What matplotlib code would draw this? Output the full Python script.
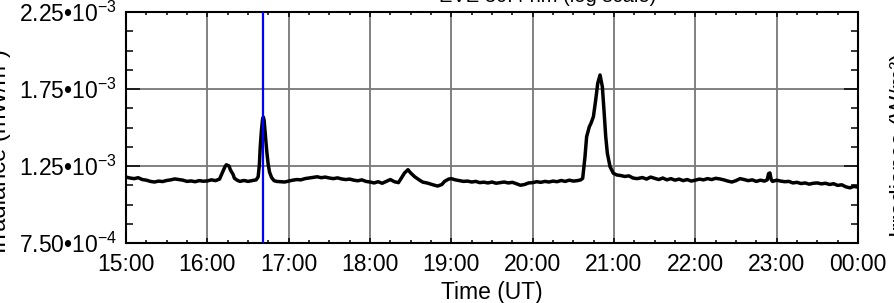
import matplotlib
matplotlib.use('Agg')
import matplotlib.pyplot as plt
from matplotlib.ticker import FixedLocator, FixedFormatter, MultipleLocator

plt.rcParams['font.family'] = ['Liberation Sans', 'DejaVu Sans']
plt.rcParams['mathtext.fontset'] = 'custom'
plt.rcParams['mathtext.rm'] = 'Liberation Sans'
plt.rcParams['mathtext.it'] = 'Liberation Sans:italic'
plt.rcParams['mathtext.bf'] = 'Liberation Sans:bold'

# ---- data: minutes after 15:00 UT and irradiance in units of 1e-3 ----
minutes = [
    0, 3, 6, 9, 12, 15, 18, 21, 24, 27, 30, 33, 36, 39, 42, 45, 48, 51, 54, 57,
    60, 63, 66, 69, 71, 73, 74, 76, 77, 79, 80, 82, 84, 87, 90, 93, 96, 97.5,
    98.4, 99, 99.9, 100.7, 101.3, 101.9, 102.6, 103.3, 103.9, 104.9, 105.9,
    107.4, 109.2, 111, 114, 117,
    120, 123, 126, 129, 132, 135, 138, 141, 144, 147, 150, 153, 156, 159, 162,
    165, 168, 171, 174, 177,
    180, 183, 186, 189, 192, 195, 198, 201, 203.4, 205.5, 208, 210, 213, 216.6,
    219, 222, 225, 228, 230, 233, 235, 238,
    240, 243, 246, 249, 252, 255, 258, 261, 264, 267, 270, 273, 276, 279, 282,
    285, 288, 291, 294, 297,
    300, 303, 306, 309, 312, 315, 318, 321, 324, 327, 330, 333, 335.5, 336.9,
    338.6, 339.8, 341.8, 343, 344.8, 346.5, 348, 349.7, 351.4, 352.6, 353.9,
    355.1, 357.1, 359.5, 362,
    365, 368, 371, 374, 377, 381, 384, 387, 390, 393, 396, 399, 402, 405, 408,
    411, 414, 417,
    420, 423, 426, 429, 432, 435, 438, 441, 444, 447, 450, 453, 456, 459, 462,
    465, 468, 471, 473, 474, 475, 476, 477,
    480, 483, 486, 489, 492, 495, 498, 501, 504, 507, 510, 513, 516, 519, 522,
    525, 528, 531, 534, 537, 540,
]
irradiance_e3 = [
    1.178, 1.172, 1.168, 1.174, 1.162, 1.158, 1.150, 1.146, 1.152, 1.149,
    1.156, 1.160, 1.166, 1.162, 1.158, 1.150, 1.153, 1.148, 1.155, 1.151,
    1.153, 1.160, 1.155, 1.165, 1.205, 1.245, 1.258, 1.250, 1.225, 1.195,
    1.170, 1.158, 1.150, 1.156, 1.150, 1.155, 1.160, 1.180,
    1.260, 1.370, 1.480, 1.550, 1.568, 1.545, 1.470, 1.400, 1.340, 1.260,
    1.210, 1.175, 1.155, 1.150, 1.148, 1.146,
    1.152, 1.158, 1.162, 1.160, 1.168, 1.172, 1.176, 1.180, 1.174, 1.178,
    1.172, 1.168, 1.173, 1.166, 1.162, 1.165, 1.158, 1.154, 1.160, 1.150,
    1.146, 1.140, 1.148, 1.138, 1.150, 1.162, 1.148, 1.142, 1.175, 1.205,
    1.226, 1.205, 1.180, 1.158, 1.145, 1.140, 1.132, 1.124, 1.120, 1.130,
    1.150, 1.165,
    1.168, 1.160, 1.155, 1.150, 1.152, 1.146, 1.150, 1.142, 1.145, 1.140,
    1.146, 1.138, 1.142, 1.146, 1.140, 1.144, 1.135, 1.125, 1.130, 1.140,
    1.142, 1.148, 1.144, 1.150, 1.146, 1.152, 1.148, 1.156, 1.150, 1.158,
    1.152, 1.155, 1.160, 1.170,
    1.310, 1.440, 1.505, 1.527, 1.570, 1.679, 1.787, 1.841, 1.765, 1.614,
    1.440, 1.332, 1.245, 1.203, 1.192,
    1.188, 1.182, 1.186, 1.172, 1.168, 1.175, 1.165, 1.178, 1.170, 1.162,
    1.172, 1.160, 1.168, 1.158, 1.165, 1.155, 1.162, 1.152,
    1.158, 1.165, 1.160, 1.168, 1.162, 1.170, 1.166, 1.160, 1.152, 1.146,
    1.155, 1.168, 1.162, 1.155, 1.160, 1.150, 1.158, 1.152, 1.160, 1.200,
    1.205, 1.160, 1.150,
    1.158, 1.152, 1.148, 1.150, 1.140, 1.144, 1.136, 1.140, 1.132, 1.138,
    1.140, 1.134, 1.138, 1.130, 1.135, 1.124, 1.128, 1.115, 1.108, 1.118,
    1.112,
]

x_tick_hours = [15, 16, 17, 18, 19, 20, 21, 22, 23, 24]
x_tick_labels = ['15:00', '16:00', '17:00', '18:00', '19:00', '20:00',
                 '21:00', '22:00', '23:00', '00:00']
y_tick_values = [0.75e-3, 1.25e-3, 1.75e-3, 2.25e-3]
y_tick_labels = ['7.50•$\\mathregular{10^{-4}}$', '1.25•$\\mathregular{10^{-3}}$',
                 '1.75•$\\mathregular{10^{-3}}$', '2.25•$\\mathregular{10^{-3}}$']
event_hour = 16 + 41.1 / 60

title_text = 'EVE 30.4 nm (log scale)'
y_label_left = 'Irradiance (mW/m²)'
y_label_right = 'Irradiance (W/m²)'
x_label = 'Time (UT)'

hours = [15 + m / 60 for m in minutes]
values = [v * 1e-3 for v in irradiance_e3]

W, H = 895, 303
fig = plt.figure(figsize=(W / 100, H / 100), dpi=100)
ax = fig.add_axes([126 / W, 1 - 243 / H, 732 / W, 231 / H])

ax.plot(hours, values, color='black', lw=2.5, zorder=3, solid_joinstyle='round')
ax.axvline(event_hour, color='#0000ff', lw=1.6, zorder=4)

ax.set_xlim(15, 24)
ax.set_ylim(0.75e-3, 2.25e-3)
ax.xaxis.set_major_locator(FixedLocator(x_tick_hours))
ax.xaxis.set_major_formatter(FixedFormatter(x_tick_labels))
ax.xaxis.set_minor_locator(MultipleLocator(0.25))
ax.yaxis.set_major_locator(FixedLocator(y_tick_values))
ax.yaxis.set_major_formatter(FixedFormatter(y_tick_labels))
ax.yaxis.set_minor_locator(MultipleLocator(0.125e-3))

ax.grid(which='major', color='#777777', lw=1.3)
ax.tick_params(which='both', direction='in', top=True, right=True,
               color='black', labelsize=16.5)
ax.tick_params(axis='x', which='major', length=3.8, width=1.1, pad=7)
ax.tick_params(axis='x', which='minor', length=2.0, width=1.1)
ax.tick_params(axis='y', which='major', length=10, width=1.1, pad=6.5)
ax.tick_params(axis='y', which='minor', length=5, width=1.1)
for s in ax.spines.values():
    s.set_linewidth(1.5)
    s.set_color('black')

fig.text(439 / W, 1 - 2 / H, title_text, ha='left', va='baseline', fontsize=14.5)
fig.text(0 / W, 1 - 151 / H, y_label_left, rotation=90, ha='center', va='center',
         fontsize=17)
fig.text(890 / W, 1 - 145 / H, y_label_right, rotation=90, ha='left', va='center',
         fontsize=17)
fig.text(492 / W, 1 - 299 / H, x_label, ha='center', va='baseline', fontsize=16.5)

fig.savefig('out.png', dpi=100)
